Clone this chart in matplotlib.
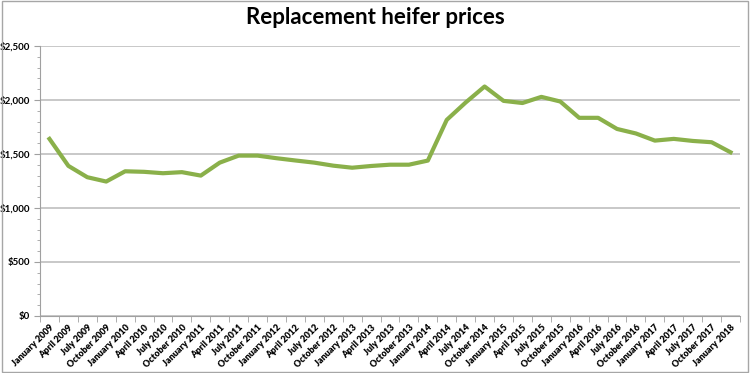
import matplotlib
matplotlib.use("Agg")
import matplotlib.pyplot as plt
from matplotlib.ticker import FixedLocator, MultipleLocator, FuncFormatter
from matplotlib.patches import Rectangle

plt.rcParams['font.family'] = ['Lato', 'DejaVu Sans']

# quarterly dates, Jan 2009 .. Jan 2018
months = ["January", "April", "July", "October"]
labels = [f"{m} {y}" for y in range(2009, 2019) for m in months][:37]

prices = [1640, 1390, 1285, 1245, 1340, 1335, 1322, 1332, 1300, 1420,
          1485, 1485, 1461, 1440, 1420, 1392, 1373, 1389, 1401, 1401,
          1439, 1816, 1977, 2125, 1992, 1972, 2029, 1986, 1835, 1835,
          1732, 1690, 1624, 1640, 1621, 1609, 1516]

fig = plt.figure(figsize=(7.5, 3.73), dpi=100)
ax = fig.add_axes([40 / 750, 1 - 316 / 373, 700 / 750, 270 / 373])

x = list(range(len(prices)))
ax.plot(x, prices, color="#8AB04A", lw=3, solid_joinstyle="round", zorder=3)

ax.set_xlim(-0.5, len(prices) - 0.5)
ax.set_ylim(0, 2500)
ax.yaxis.set_major_locator(MultipleLocator(500))
ax.yaxis.set_minor_locator(MultipleLocator(100))
ax.yaxis.set_major_formatter(FuncFormatter(lambda v, p: f"${v:,.0f}"))
ax.grid(axis="y", color="#BFBFBF", lw=1.2, zorder=0)

ax.set_xticks(x)
ax.set_xticklabels(labels, rotation=45, ha="right", rotation_mode="anchor",
                   fontsize=6.5, fontweight="heavy")
ax.xaxis.set_minor_locator(FixedLocator([i - 0.5 for i in range(len(prices) + 1)]))
ax.tick_params(axis="x", which="major", length=0, pad=5)
ax.tick_params(axis="x", which="minor", length=4, color="#A0A0A0")
ax.tick_params(axis="y", which="major", length=4, color="#A0A0A0", labelsize=7, pad=3)
ax.tick_params(axis="y", which="minor", length=2, color="#A0A0A0")
for t in ax.get_yticklabels():
    t.set_fontweight("bold")

for s in ["top", "right"]:
    ax.spines[s].set_visible(False)
for s in ["left", "bottom"]:
    ax.spines[s].set_color("#A0A0A0")

fig.text(0.5, 1 - 18 / 373, "Replacement heifer prices", ha="center", va="center",
         fontsize=16, fontweight="bold")

fig.patches.append(Rectangle((0.002, 0.004), 0.995, 0.992, transform=fig.transFigure,
                             fill=False, edgecolor="#A6A6A6", lw=1))

fig.savefig("out.png", dpi=100)
